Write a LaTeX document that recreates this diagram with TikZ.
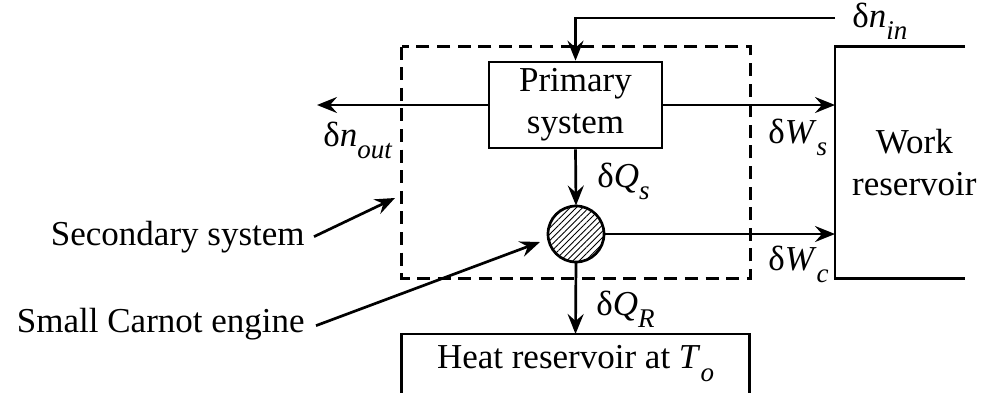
\documentclass[tikz,border=0pt]{standalone}
\usepackage{fontspec}
\setmainfont{Liberation Serif}
\usepackage{tikz}
\usetikzlibrary{arrows.meta,positioning,patterns.meta}

\newcommand{\lowidx}[1]{\raisebox{-0.36em}{\fontsize{13.5}{14}\selectfont\itshape #1}}
\newcommand{\dq}[2]{δ\textit{#1}\lowidx{#2}}

\begin{document}
\begin{tikzpicture}[
	x=0.5pt, y=-0.5pt,
	font=\fontsize{17.5}{21}\selectfont,
	>={Stealth[length=10pt,width=8pt,inset=3.5pt]},
	line width=1.35pt,
	box/.style={rectangle, draw=black, align=center},
	lbl/.style={inner sep=0pt},
	seta/.style={->},
]
\useasboundingbox (0,0) rectangle (990,392);
% systems
\node[box, minimum width=86.5pt, minimum height=43pt] (prim) at (575.5,105) {Primary\\system};
\node[circle, draw, minimum size=28pt, inner sep=0pt,
	pattern={Lines[angle=45,distance=2.2pt,line width=0.45pt]}] (eng) at (576,234) {};
\node[box, draw=none, minimum width=173pt, minimum height=114.5pt] (sec) at (576,162.5) {};
\draw[line width=1.2pt, dash pattern=on 6.5pt off 3.8pt] (sec.north west) rectangle (sec.south east);
% reservoirs
\node[lbl, align=center, minimum width=78pt, minimum height=114.5pt, anchor=west] (wres) at (835,162.5) {Work\\reservoir};
\draw (wres.north west) ++(130,0) -- (wres.north west) -- (wres.south west) -- ++(130,0);
\node[lbl, minimum width=172.5pt, minimum height=28pt, anchor=north] (hres) at (575.5,334) {Heat reservoir at \textit{T}\lowidx{o}};
\coordinate (bot) at (0,396);
\draw (hres.north west |- bot) -- (hres.north west) -- (hres.north east) -- (hres.north east |- bot);
% flows
\coordinate (inn) at (835,18);
\coordinate (outp) at (317,105);
\draw[seta] (inn) -| (prim.north);
\draw[seta] (prim.west) -- (outp);
\draw[seta] (prim.east) -- (prim.east -| wres.west);
\draw[seta] (prim.south) -- (eng.north);
\draw[seta] (eng.east) -- (eng.east -| wres.west);
\draw[seta] (eng.south) -- (hres.north);
% labels
\node[lbl, anchor=base west] (nin) at (851,27) {\dq{n}{in}};
\node[lbl, anchor=base west] (nout) at (322,146) {\dq{n}{out}};
\node[lbl, anchor=base west] (ws) at (767,143) {\dq{W}{s}};
\node[lbl, anchor=base west] (wc) at (767,270) {\dq{W}{c}};
\node[lbl, anchor=base west] (qs) at (596,187) {\dq{Q}{s}};
\node[lbl, anchor=base west] (qr) at (595,315) {\dq{Q}{R}};
% pointers
\node[lbl, anchor=base east] (secl) at (306,245) {Secondary system};
\node[lbl, anchor=base east] (engl) at (306,332) {Small Carnot engine};
\coordinate (secp) at (395,198);
\coordinate (engp) at (540,242);
\draw[seta] ([xshift=4pt]secl.east) -- (secp);
\draw[seta] ([xshift=5pt,yshift=-1pt]engl.east) -- (engp);
\end{tikzpicture}
\end{document}
